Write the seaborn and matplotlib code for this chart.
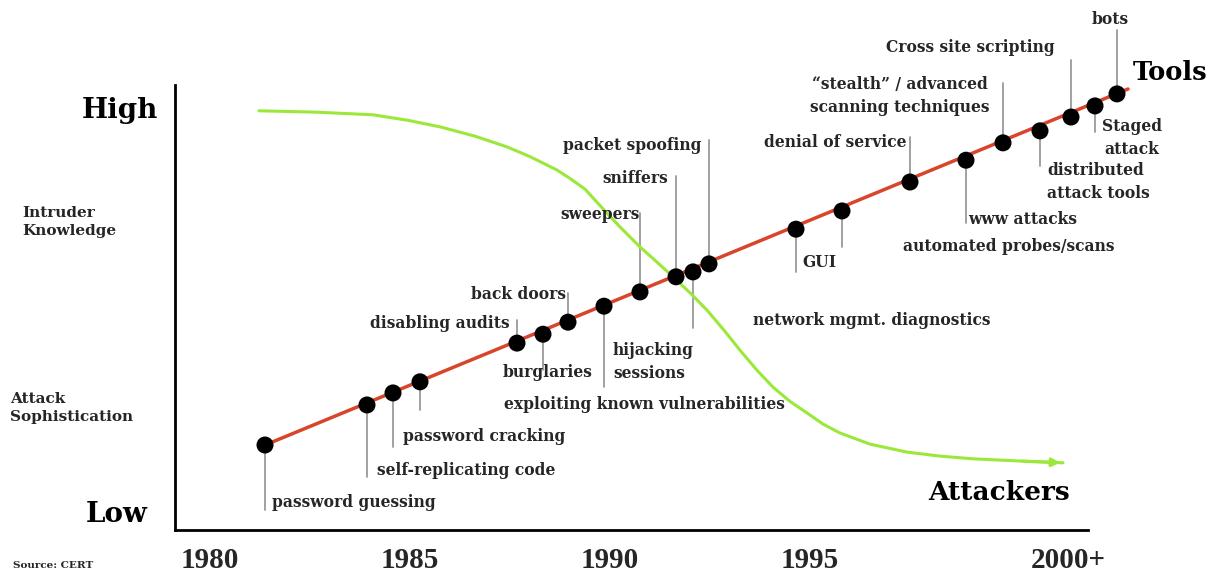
import matplotlib
matplotlib.use("Agg")

import pandas as pd
import matplotlib.pyplot as plt
import seaborn as sns

# Data: x = year, y = level (0 = low, 100 = high)

# tools (black dots on the red line)
tool_years = [1981.375, 1983.925, 1984.575, 1985.25, 1987.675, 1988.325, 1988.95,
              1989.85, 1990.75, 1991.65, 1992.075, 1992.475, 1994.65, 1995.8,
              1997.5, 1998.9, 1999.825, 2000.75, 2001.525, 2002.125, 2002.675]
tool_levels = [19.1, 28.1, 30.8, 33.3, 42.0, 44.0, 46.7, 50.3, 53.5, 56.9, 58.0,
               59.8, 67.6, 71.7, 78.2, 83.1, 87.0, 89.7, 92.8, 95.3, 98.0]
# where each grey leader line ends
leader_ends = [4.5, 11.9, 18.7, 27.0, 47.2, 36.0, 53.3, 32.1, 71.2, 79.6, 45.4,
               87.6, 58.0, 63.6, 88.3, 69.0, 100.4, 81.8, 105.6, 89.4, 112.4]

# red trend line
trend_years = [1981.375, 2002.95]
trend_levels = [19.1, 99.1]

# attackers' knowledge (green curve)
knowledge_years = [1981.225, 1982.65, 1984.075, 1984.925, 1985.75, 1986.625,
                   1987.425, 1988.0, 1988.675, 1989.0, 1989.375, 1989.925, 1990.25,
                   1990.75, 1991.175, 1991.575, 1992.0, 1992.425, 1992.85,
                   1993.25, 1993.675, 1994.075, 1994.5, 1994.925, 1995.325,
                   1995.75, 1996.5, 1997.425, 1998.25, 1999.075, 2000.25, 2001.325]
knowledge_levels = [94.2, 93.9, 93.3, 92.1, 90.6, 88.5, 86.1, 83.9, 80.9, 79.0,
                    76.6, 71.2, 68.1, 63.6, 60.2, 56.9, 53.3, 49.4, 44.9, 40.4,
                    35.9, 32.1, 28.9, 26.3, 23.8, 21.8, 19.3, 17.5, 16.6, 16.0,
                    15.5, 15.1]

# labels: text, x, y, horizontal alignment
label_texts = ["password guessing", "self-replicating code", "password cracking",
               "disabling audits", "burglaries", "back doors", "hijacking\nsessions",
               "exploiting known vulnerabilities", "sweepers", "sniffers",
               "packet spoofing", "network mgmt. diagnostics", "GUI",
               "denial of service", "\u201cstealth\u201d / advanced\nscanning techniques",
               "www attacks", "automated probes/scans", "distributed\nattack tools",
               "Staged\nattack", "Cross site scripting", "bots"]
label_x = [1981.55, 1984.175, 1984.825, 1987.5, 1988.45, 1988.9, 1990.075,
           1987.35, 1990.75, 1991.45, 1992.3, 1993.575, 1994.8, 1997.425,
           1997.25, 1998.95, 1997.325, 2000.925, 2003.05, 2001.125, 2002.5]
label_y = [6.1, 13.3, 20.9, 46.5, 35.3, 53.0, 37.8, 28.1, 70.8, 78.9, 86.5,
           47.0, 60.2, 87.0, 97.5, 69.7, 63.6, 78.2, 88.1, 108.5, 114.8]
label_ha = ["left", "left", "left", "right", "center", "right", "left", "left",
            "right", "right", "right", "left", "left", "right", "center", "left",
            "left", "left", "center", "right", "center"]

year_ticks = [1980, 1985, 1990, 1995, 2001.45]
year_labels = ["1980", "1985", "1990", "1995", "2000+"]

RED = "#d8452b"
GREEN = "#9be83a"
GREY = "#9a9a9a"
INK = "#262626"
SERIF = "DejaVu Serif"

sns.set_theme(style="white")
plt.rcParams["font.family"] = [SERIF]

fig = plt.figure(figsize=(12.11, 5.76), dpi=100)
ax = fig.add_axes([175 / 1211, 46 / 576, 913 / 1211, 445 / 576])
ax.set_xlim(1979.125, 2001.95)
ax.set_ylim(0, 100)

# leader lines
for x, y0, y1 in zip(tool_years, tool_levels, leader_ends):
    ax.plot([x, x], [y0, y1], color=GREY, lw=1.3, clip_on=False, zorder=1)

# green curve with arrow head
green_df = pd.DataFrame({"year": knowledge_years, "level": knowledge_levels})
sns.lineplot(data=green_df, x="year", y="level", sort=False, color=GREEN, lw=2.2,
             ax=ax, zorder=2, clip_on=False)
ax.annotate("", xy=(knowledge_years[-1], knowledge_levels[-1]),
            xytext=(knowledge_years[-2], knowledge_levels[-2]),
            arrowprops=dict(arrowstyle="-|>", color=GREEN, lw=2.2, mutation_scale=12),
            annotation_clip=False)

# red trend line + dots
sns.lineplot(x=trend_years, y=trend_levels, color=RED, lw=2.5, ax=ax, zorder=3,
             clip_on=False)
sns.scatterplot(x=tool_years, y=tool_levels, color="black", s=150, edgecolor="none",
                ax=ax, zorder=4, clip_on=False)

# labels
for t, x, y, ha in zip(label_texts, label_x, label_y, label_ha):
    ax.text(x, y, t, ha=ha, va="center", fontsize=11.2, fontweight="bold",
            color=INK, linespacing=1.45, multialignment="center" if ha == "center" else ha)

ax.text(2003.075, 102.9, "Tools", ha="left", va="center", fontsize=18.5,
        fontweight="bold", color="black")
ax.text(1997.95, 8.5, "Attackers", ha="left", va="center", fontsize=19,
        fontweight="bold", color="black")

# axes styling
for side in ["top", "right"]:
    ax.spines[side].set_visible(False)
for side in ["left", "bottom"]:
    ax.spines[side].set_color("black")
    ax.spines[side].set_linewidth(2)
ax.set_yticks([])
ax.set_xticks(year_ticks)
ax.set_xticklabels(year_labels, fontsize=21, fontweight="bold",
                   family="Liberation Serif")
ax.tick_params(axis="x", length=0, pad=12)
ax.set_xlabel("")
ax.set_ylabel("")

# left-hand labels
fig.text(158 / 1211, 1 - 111 / 576, "High", ha="right", va="center", fontsize=20,
         fontweight="bold", color="black")
fig.text(148 / 1211, 1 - 515 / 576, "Low", ha="right", va="center", fontsize=20,
         fontweight="bold", color="black")
fig.text(22 / 1211, 1 - 222 / 576, "Intruder\nKnowledge", ha="left", va="center",
         fontsize=11, fontweight="bold", color=INK, linespacing=1.35)
fig.text(10 / 1211, 1 - 408 / 576, "Attack\nSophistication", ha="left", va="center",
         fontsize=11, fontweight="bold", color=INK, linespacing=1.35)
fig.text(13 / 1211, 1 - 565 / 576, "Source: CERT", ha="left", va="center",
         fontsize=7.5, fontweight="bold", color=INK)

fig.savefig("out.png", dpi=100)
